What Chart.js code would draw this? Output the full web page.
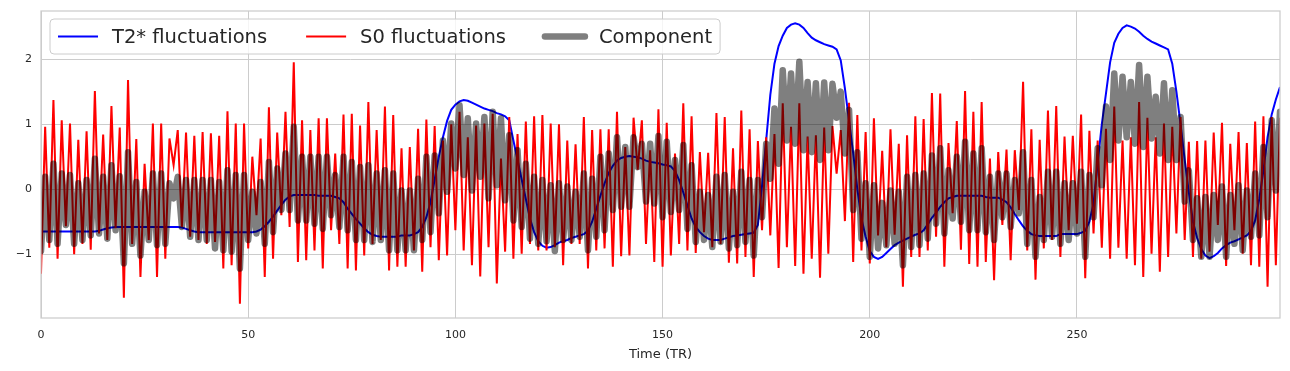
<!DOCTYPE html>
<html>
<head>
<meta charset="utf-8">
<script src="https://cdn.jsdelivr.net/npm/chart.js@4.4.0/dist/chart.umd.min.js"></script>
<style>
html, body { margin: 0; padding: 0; background: #fff; }
#wrap { width: 1290px; height: 371px; }
</style>
</head>
<body>
<div id="wrap"><canvas id="fluct"></canvas></div>
<script>
const timeTR = Array.from({length: 300}, (_, i) => i);

const t2Fluct = [
  -0.65, -0.65, -0.65, -0.65, -0.65, -0.65, -0.65, -0.65, -0.65, -0.65,
  -0.65, -0.65, -0.65, -0.65, -0.64, -0.62, -0.6, -0.59, -0.58, -0.58,
  -0.58, -0.58, -0.58, -0.58, -0.58, -0.58, -0.58, -0.58, -0.58, -0.58,
  -0.58, -0.58, -0.58, -0.58, -0.59, -0.61, -0.63, -0.65, -0.66, -0.66,
  -0.66, -0.66, -0.66, -0.66, -0.66, -0.66, -0.66, -0.66, -0.66, -0.66,
  -0.66, -0.66, -0.65, -0.62, -0.57, -0.5, -0.42, -0.33, -0.24, -0.16,
  -0.11, -0.09, -0.09, -0.09, -0.09, -0.09, -0.09, -0.1, -0.1, -0.1,
  -0.1, -0.12, -0.14, -0.2, -0.3, -0.38, -0.46, -0.53, -0.6, -0.66,
  -0.7, -0.72, -0.73, -0.73, -0.73, -0.73, -0.73, -0.71, -0.71, -0.71,
  -0.69, -0.66, -0.58, -0.43, -0.2, 0.15, 0.5, 0.8, 1.05, 1.22,
  1.3, 1.35, 1.37, 1.36, 1.33, 1.3, 1.27, 1.24, 1.22, 1.2,
  1.17, 1.15, 1.12, 1.06, 0.75, 0.45, 0.15, -0.15, -0.45, -0.66,
  -0.8, -0.87, -0.9, -0.89, -0.86, -0.82, -0.8, -0.78, -0.75, -0.73,
  -0.71, -0.69, -0.64, -0.5, -0.3, -0.1, 0.09, 0.25, 0.36, 0.44,
  0.48, 0.5, 0.51, 0.5, 0.49, 0.47, 0.44, 0.42, 0.41, 0.4,
  0.38, 0.37, 0.35, 0.28, 0.14, -0.05, -0.25, -0.45, -0.58, -0.66,
  -0.72, -0.76, -0.78, -0.78, -0.78, -0.76, -0.74, -0.72, -0.71, -0.7,
  -0.69, -0.68, -0.67, -0.55, 0.05, 0.75, 1.45, 1.93, 2.2, 2.36,
  2.48, 2.53, 2.55, 2.53, 2.48, 2.4, 2.33, 2.29, 2.26, 2.23,
  2.21, 2.19, 2.15, 1.98, 1.55, 1.05, 0.55, 0.0, -0.45, -0.73,
  -0.95, -1.04, -1.07, -1.04, -0.98, -0.92, -0.86, -0.82, -0.79, -0.76,
  -0.73, -0.7, -0.68, -0.63, -0.54, -0.44, -0.36, -0.27, -0.2, -0.14,
  -0.12, -0.1, -0.1, -0.1, -0.1, -0.1, -0.1, -0.1, -0.12, -0.13,
  -0.13, -0.13, -0.16, -0.2, -0.28, -0.38, -0.48, -0.57, -0.64, -0.69,
  -0.71, -0.72, -0.72, -0.72, -0.72, -0.72, -0.69, -0.69, -0.69, -0.69,
  -0.69, -0.67, -0.64, -0.5, -0.22, 0.4, 1.0, 1.47, 1.95, 2.25,
  2.39, 2.48, 2.52, 2.5, 2.47, 2.42, 2.36, 2.31, 2.27, 2.24,
  2.21, 2.18, 2.15, 1.93, 1.5, 1.0, 0.45, -0.05, -0.5, -0.75,
  -0.92, -1.02, -1.06, -1.03, -0.98, -0.91, -0.86, -0.82, -0.8, -0.77,
  -0.74, -0.71, -0.64, -0.48, -0.15, 0.29, 0.8, 1.15, 1.38, 1.57
];

const s0Fluct = [
  -1.3, 0.96, -0.9, 1.37, -1.07, 1.06, -0.57, 1.01, -1.0, 0.76,
  -0.84, 0.89, -0.93, 1.51, -0.68, 0.84, -0.78, 1.28, -0.6, 0.95,
  -1.67, 1.68, -0.84, 0.77, -1.35, 0.39, -0.78, 1.01, -1.35, 1.01,
  -1.07, 0.78, 0.37, 0.91, -0.58, 0.87, -0.73, 0.82, -0.78, 0.88,
  -0.84, 0.86, -0.81, 0.82, -1.22, 1.2, -1.17, 1.01, -1.76, 1.01,
  -0.91, 0.5, -0.4, 0.78, -1.35, 1.26, -1.07, 0.87, -0.4, 1.19,
  -0.58, 1.95, -1.12, 1.06, -1.09, 0.91, -0.94, 1.09, -1.22, 1.09,
  -0.63, 0.55, -0.84, 1.15, -1.22, 1.16, -1.25, 0.98, -1.02, 1.34,
  -0.84, 0.91, -0.78, 1.27, -1.25, 1.14, -1.19, 0.63, -1.19, 0.65,
  -0.94, 0.93, -1.27, 1.07, -0.89, 0.97, -1.09, 0.75, -1.02, 1.0,
  -0.63, 1.19, -0.94, 0.8, -1.17, 0.98, -1.34, 1.01, -0.89, 1.16,
  -1.45, 0.47, -0.96, 1.11, -1.07, 0.85, -0.99, 1.04, -0.84, 1.12,
  -0.94, 1.14, -0.94, 1.01, -0.89, 1.0, -1.17, 0.75, -0.84, 0.69,
  -0.84, 1.11, -1.22, 0.91, -0.94, 0.92, -0.91, 0.92, -1.19, 1.19,
  -1.03, 0.65, -1.02, 1.1, 0.3, 1.06, -0.84, 0.6, -1.12, 1.23,
  -1.19, 1.02, -1.02, 0.55, -0.84, 1.32, -0.94, 1.12, -0.98, 0.57,
  -0.66, 0.56, -0.89, 1.17, -0.84, 1.11, -1.13, 0.63, -1.14, 1.21,
  -1.04, 0.92, -1.35, 0.74, -0.63, 0.8, -0.71, 0.85, -1.21, 1.32,
  -0.89, 0.96, -1.18, 1.32, -1.3, 0.81, -1.07, 0.83, -1.36, 0.95,
  -0.99, 0.97, 0.24, 0.91, -0.49, 1.33, -1.12, 1.14, -0.94, 0.88,
  -1.14, 1.09, -0.71, 0.59, -0.89, 0.92, -0.7, 0.7, -1.5, 0.83,
  -1.04, 1.12, -1.04, 1.08, -0.94, 1.48, -0.73, 1.47, -1.19, 0.71,
  -0.37, 1.05, -0.93, 1.51, -1.15, 1.19, -1.19, 1.34, -1.12, 0.47,
  -1.4, 0.57, -0.55, 0.61, -1.09, 0.6, -0.32, 1.65, -0.94, 0.92,
  -1.39, 0.76, -0.91, 1.21, -0.78, 1.28, -1.04, 0.81, -0.63, 0.82,
  -0.53, 1.15, -1.37, 0.9, -0.68, 0.75, -0.9, 0.93, -1.07, 1.27,
  -0.9, 0.75, -1.07, 0.8, -1.17, 1.34, -1.35, 1.1, -0.99, 0.8,
  -1.27, 1.01, -1.04, 0.96, -0.68, 1.11, -0.78, 0.73, -1.04, 0.74,
  -1.07, 0.75, -0.96, 0.87, -0.55, 1.02, -1.18, 0.7, -0.63, 0.88,
  -0.99, 0.71, -1.17, 1.04, -1.19, 1.12, -1.5, 1.11, -1.17, 1.1
];

const component = [
  -0.95, 0.19, -0.78, 0.39, -0.84, 0.24, -0.55, 0.22, -0.84, 0.09,
  -0.78, 0.14, -0.71, 0.47, -0.68, 0.19, -0.76, 0.37, -0.63, 0.2,
  -1.14, 0.57, -0.84, 0.11, -1.02, -0.04, -0.78, 0.24, -0.86, 0.24,
  -0.84, 0.09, -0.14, 0.19, -0.58, 0.14, -0.73, 0.14, -0.78, 0.14,
  -0.78, 0.14, -0.91, 0.11, -0.94, 0.29, -0.96, 0.22, -1.22, 0.22,
  -0.78, -0.04, -0.68, 0.11, -0.84, 0.42, -0.66, 0.32, -0.32, 0.55,
  -0.32, 0.96, -0.48, 0.5, -0.48, 0.5, -0.53, 0.5, -0.61, 0.5,
  -0.4, 0.22, -0.58, 0.5, -0.63, 0.42, -0.78, 0.34, -0.78, 0.37,
  -0.81, 0.24, -0.78, 0.29, -0.94, 0.24, -0.94, -0.02, -0.94, -0.02,
  -0.94, 0.16, -0.78, 0.5, -0.66, 0.52, -0.37, 0.75, -0.04, 1.01,
  0.32, 1.29, 0.22, 1.09, -0.02, 1.01, 0.19, 1.11, -0.14, 1.19,
  0.06, 1.09, -0.17, 0.83, -0.48, 0.6, -0.58, 0.39, -0.76, 0.19,
  -0.84, 0.14, -0.8, 0.06, -0.95, 0.09, -0.78, 0.04, -0.78, -0.04,
  -0.73, 0.24, -0.94, 0.16, -0.73, 0.5, -0.63, 0.55, -0.32, 0.8,
  -0.27, 0.65, -0.27, 0.8, 0.34, 0.7, -0.19, 0.7, -0.22, 0.82,
  -0.43, 0.73, -0.35, 0.45, -0.32, 0.68, -0.61, 0.37, -0.81, -0.04,
  -0.78, -0.09, -0.89, 0.19, -0.81, 0.22, -0.91, -0.04, -0.86, 0.27,
  -0.81, 0.14, -1.02, 0.14, -0.43, 0.7, 0.16, 1.24, 0.39, 1.83,
  0.75, 1.78, 0.7, 1.96, 0.6, 1.65, 0.57, 1.63, 0.45, 1.64,
  0.6, 1.62, 1.1, 1.5, 0.55, 1.22, -0.32, 0.57, -0.76, 0.09,
  -1.04, 0.06, -0.91, -0.21, -0.86, -0.02, -0.84, -0.04, -1.17, 0.19,
  -0.89, 0.22, -0.86, 0.24, -0.76, 0.52, -0.53, 0.63, -0.68, 0.29,
  -0.45, 0.5, -0.5, 0.73, -0.63, 0.55, -0.63, 0.63, -0.66, 0.19,
  -0.78, 0.24, -0.43, 0.24, -0.58, 0.14, -0.37, 0.57, -0.84, 0.14,
  -1.04, -0.12, -0.78, 0.27, -0.73, 0.27, -0.84, 0.09, -0.78, 0.09,
  -0.68, 0.27, -1.04, 0.22, -0.43, 0.63, 0.06, 1.27, 0.45, 1.78,
  0.75, 1.73, 0.8, 1.65, 0.7, 1.91, 0.65, 1.73, 0.78, 1.42,
  0.55, 1.63, 0.45, 1.52, 0.45, 1.11, -0.19, 0.29, -0.78, -0.14,
  -1.04, -0.12, -1.04, -0.09, -0.78, 0.04, -1.04, -0.09, -0.84, 0.06,
  -0.94, -0.02, -0.73, 0.24, -0.71, 0.65, -0.43, 1.06, -0.02, 1.19
];

const seriesNames = ['T2* fluctuations', 'S0 fluctuations', 'Component'];
const xTicks = [0, 50, 100, 150, 200, 250];
const yTicks = [-1, 0, 1, 2];

const FONT = '"DejaVu Sans", "Liberation Sans", sans-serif';
const INK = '#262626';
const GRID = '#cccccc';

// matplotlib-style legend drawn inside the axes, upper left
const innerLegend = {
  id: 'innerLegend',
  afterDatasetsDraw(chart) {
    const {ctx, chartArea} = chart;
    ctx.save();
    // axes frame
    ctx.strokeStyle = GRID;
    ctx.lineWidth = 1.25;
    ctx.strokeRect(chartArea.left, chartArea.top, chartArea.right - chartArea.left, chartArea.bottom - chartArea.top);

    ctx.font = '19.5px ' + FONT;
    const x0 = chartArea.left + 9, y0 = chartArea.top + 8, h = 35;
    const pad = 8, sample = 40, gapText = 14, gapItem = 39;
    const sets = chart.data.datasets;
    const widths = sets.map(d => ctx.measureText(d.label).width);
    let w = pad * 2;
    widths.forEach((tw, i) => { w += sample + gapText + tw + (i ? gapItem : 0); });

    ctx.beginPath();
    ctx.roundRect(x0, y0, w, h, 4);
    ctx.fillStyle = 'rgba(255,255,255,0.8)';
    ctx.fill();
    ctx.strokeStyle = GRID;
    ctx.lineWidth = 1;
    ctx.stroke();

    const cy = y0 + h / 2;
    let x = x0 + pad;
    sets.forEach((d, i) => {
      ctx.beginPath();
      ctx.moveTo(x, cy);
      ctx.lineTo(x + sample, cy);
      ctx.strokeStyle = d.borderColor;
      ctx.lineWidth = d.borderWidth;
      ctx.lineCap = d.borderCapStyle || 'butt';
      ctx.stroke();
      ctx.fillStyle = INK;
      ctx.textBaseline = 'middle';
      ctx.textAlign = 'left';
      ctx.fillText(d.label, x + sample + gapText, cy + 1);
      x += sample + gapText + widths[i] + gapItem;
    });
    ctx.restore();
  }
};

new Chart(document.getElementById('fluct'), {
  type: 'line',
  data: {
    labels: timeTR,
    datasets: [
      {
        label: seriesNames[0],
        data: t2Fluct,
        borderColor: '#0000ff',
        borderWidth: 2,
        order: 3
      },
      {
        label: seriesNames[1],
        data: s0Fluct,
        borderColor: '#ff0000',
        borderWidth: 2,
        order: 2
      },
      {
        label: seriesNames[2],
        data: component,
        borderColor: 'rgba(0,0,0,0.5)',
        borderWidth: 6.5,
        borderJoinStyle: 'round',
        borderCapStyle: 'round',
        order: 1
      }
    ]
  },
  options: {
    responsive: true,
    maintainAspectRatio: false,
    animation: false,
    devicePixelRatio: 1,
    layout: { padding: { top: 11, right: 10, left: 0, bottom: 0 } },
    elements: {
      point: { radius: 0, hoverRadius: 0 },
      line: { tension: 0, fill: false }
    },
    datasets: { line: { clip: 0 } },
    plugins: {
      legend: { display: false },
      tooltip: { enabled: false }
    },
    scales: {
      x: {
        type: 'linear',
        min: 0,
        max: 299,
        afterBuildTicks: s => { s.ticks = xTicks.map(v => ({value: v})); },
        afterFit: s => { s.height = 53; s.paddingLeft = 0; s.paddingRight = 0; },
        grid: { color: GRID, lineWidth: 1, drawTicks: false },
        border: { display: false },
        ticks: { padding: 11, color: INK, maxRotation: 0, font: { family: FONT, size: 11 } },
        title: {
          display: true,
          text: 'Time (TR)',
          color: INK,
          font: { family: FONT, size: 13 },
          padding: { top: 0, bottom: 9 }
        }
      },
      y: {
        min: -1.98,
        max: 2.74,
        afterBuildTicks: s => { s.ticks = yTicks.map(v => ({value: v})); },
        afterFit: s => { s.width = 41; s.paddingTop = 0; s.paddingBottom = 0; },
        grid: { color: GRID, lineWidth: 1, drawTicks: false },
        border: { display: false },
        ticks: {
          padding: 9,
          color: INK,
          font: { family: FONT, size: 11 },
          callback: v => (v < 0 ? '\u2212' + Math.abs(v) : String(v))
        }
      }
    }
  },
  plugins: [innerLegend]
});
</script>
</body>
</html>
